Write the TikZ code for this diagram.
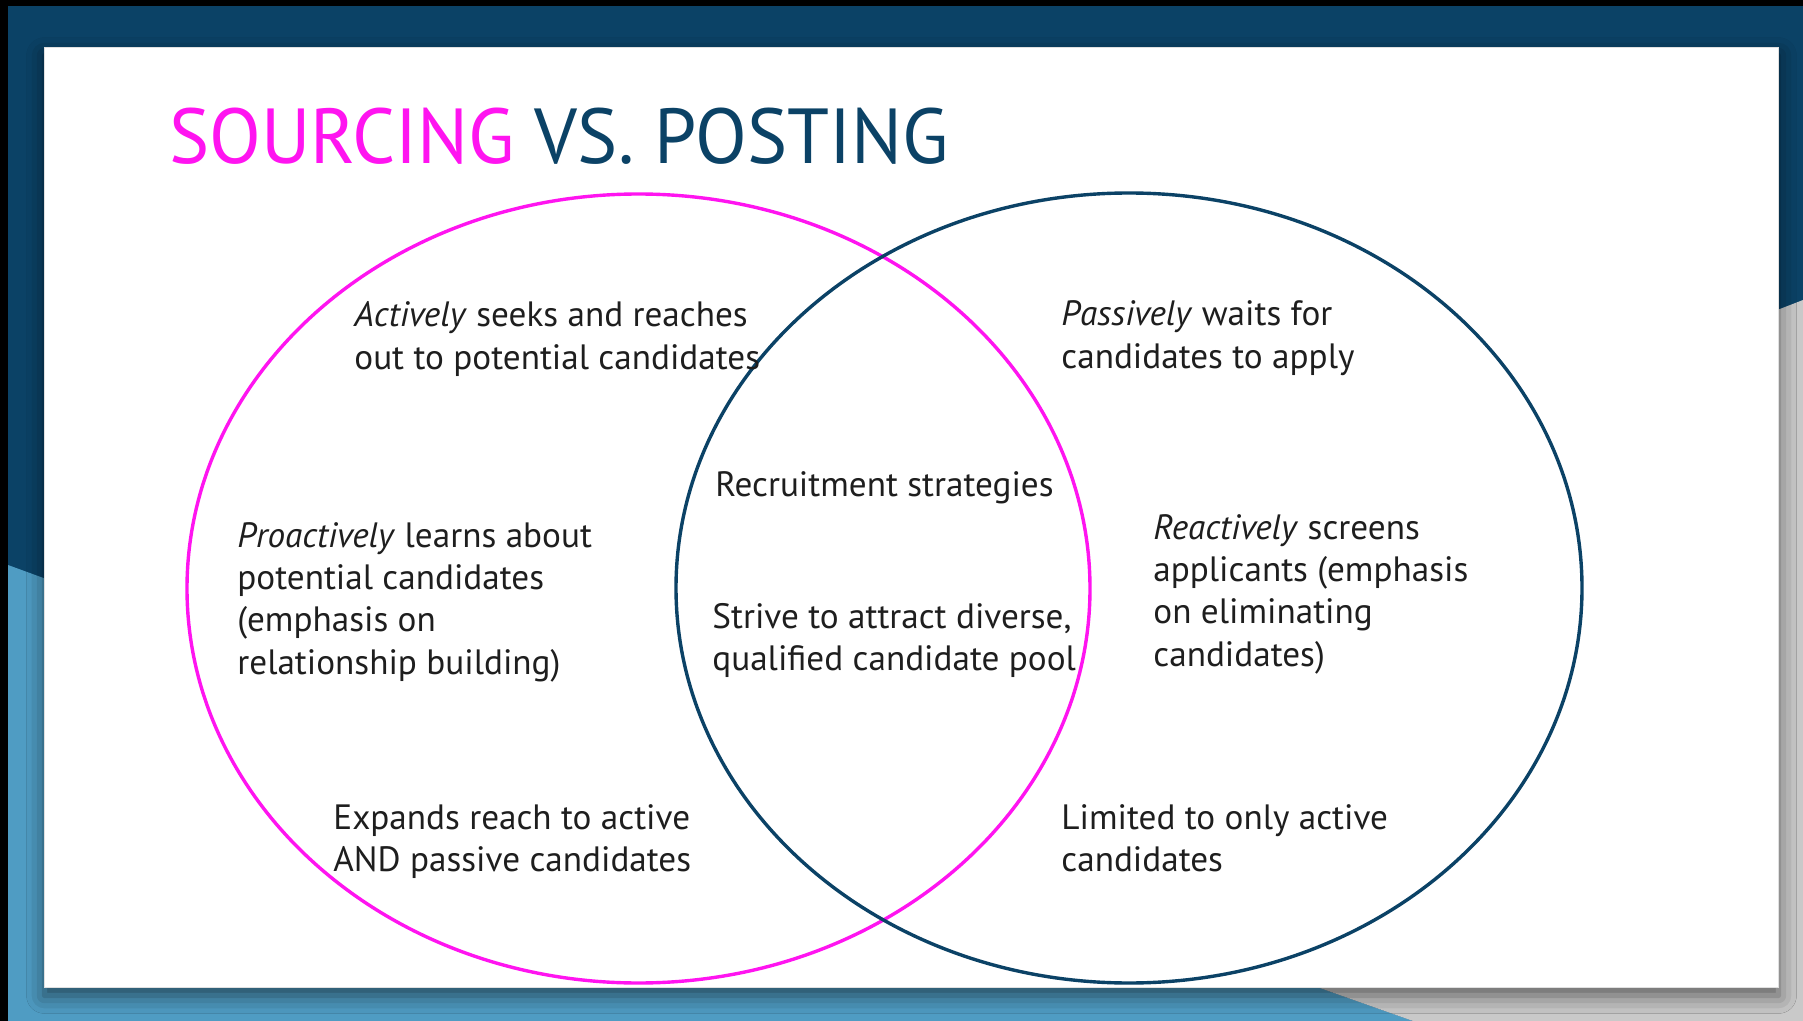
\documentclass[tikz,border=0pt]{standalone}
\usepackage{fontspec}
\setmainfont{PT Sans}
\newfontfamily\titlefont[FakeStretch=0.97]{PT Sans}
\usetikzlibrary{shadows.blur}

\definecolor{navy}{HTML}{0B4266}
\definecolor{skyblue}{HTML}{4F9CC3}
\definecolor{shadegray}{HTML}{C9C9C9}
\definecolor{pinkline}{HTML}{FF14F0}
\definecolor{ink}{HTML}{1E1E1E}

\tikzset{
  % multi-line blocks are anchored on the baseline of their last line
  body/.style={anchor=base west, inner sep=0pt, align=left, text=ink,
    font=\fontsize{17.6}{21.2}\selectfont},
  setA/.style={draw=pinkline, line width=1.7pt},
  setB/.style={draw=navy, line width=1.7pt},
}

\begin{document}
\begin{tikzpicture}[x=0.5pt, y=-0.5pt]
\useasboundingbox (0,0) rectangle (1803,1021);

% backdrop panels
\fill[navy] (0,0) rectangle (1803,1021);
\fill[skyblue] (8,565) -- (300,672) -- (900,860) -- (1317,987) -- (1413,1021) -- (8,1021) -- cycle;
\fill[shadegray] (1803,300) -- (1700,340) -- (1200,900) -- (1317,987) -- (1413,1021) -- (1803,1021) -- cycle;
\fill[black] (0,0) rectangle (8,1021);
\fill[black] (0,0) rectangle (1803,6);

% slide card
\node[name=card, draw=black!12, line width=0.5pt, fill=white, minimum width=867pt, minimum height=470pt,
      inner sep=0pt, anchor=north west,
      blur shadow={shadow xshift=0pt, shadow yshift=-4pt, shadow blur radius=9pt, shadow opacity=55}]
      at (44,47) {};

% title
\node[name=title, anchor=west, inner sep=0pt, font=\titlefont\fontsize{39}{39}\selectfont]
  at (169,136) {\textcolor{pinkline}{SOURCING} \textcolor{navy}{VS. POSTING}};

% the two sets
\draw[setA] (638.5,588.5) ellipse [x radius=451.5, y radius=394.5];
\draw[setB] (1129,588) ellipse [x radius=453, y radius=395];

% texts
\node[body, name=srcA] at (354,369.4) {\textit{Actively} seeks and reaches\\out to potential candidates};
\node[body, name=srcB] at (237,674.2) {\textit{Proactively} learns about\\potential candidates\\(emphasis on\\relationship building)};
\node[body, name=srcC] at (333,871.4) {Expands reach to active\\AND passive candidates};
\node[body, name=both1] at (715,496) {Recruitment strategies};
\node[body, name=both2] at (712,670.4) {Strive to attract diverse,\\qualified candidate pool};
\node[body, name=postA] at (1061,368.4) {\textit{Passively} waits for\\candidates to apply};
\node[body, name=postB] at (1153,666.2) {\textit{Reactively} screens\\applicants (emphasis\\on eliminating\\candidates)};
\node[body, name=postC] at (1061,871.4) {Limited to only active\\candidates};
\end{tikzpicture}
\end{document}
